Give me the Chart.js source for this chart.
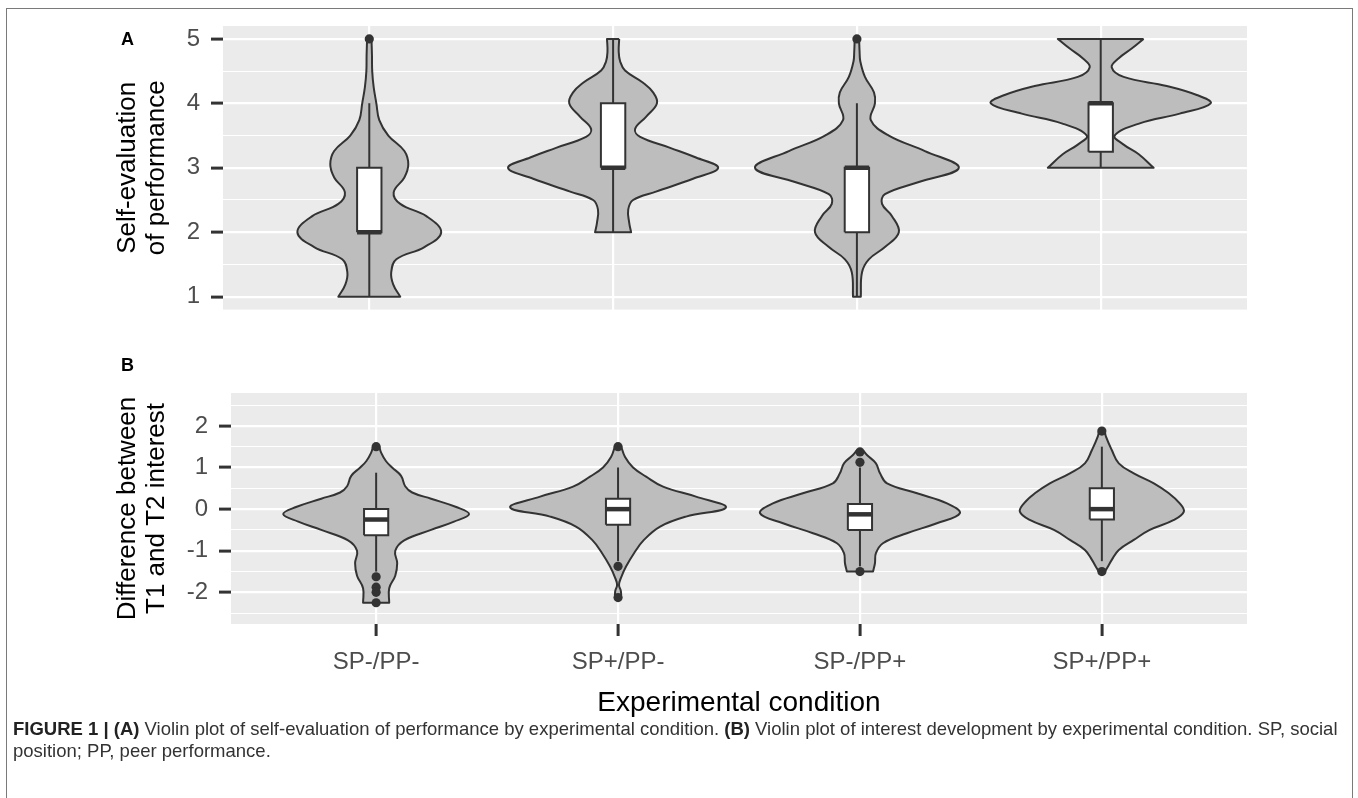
<!DOCTYPE html>
<html><head><meta charset="utf-8">
<script src="https://cdn.jsdelivr.net/npm/chart.js@4.4.1/dist/chart.umd.min.js"></script>
<style>
html,body{margin:0;padding:0;background:#fff;width:1358px;height:798px;overflow:hidden;font-family:"Liberation Sans",Arial,sans-serif;}
#frame{position:absolute;left:6px;top:8px;width:1347px;height:830px;border:1.5px solid #7a7a7a;box-sizing:border-box;}
#wrapA{position:absolute;left:0;top:0;width:1358px;height:335px;}
#wrapB{position:absolute;left:0;top:340px;width:1358px;height:400px;}
.lab{position:absolute;font-weight:bold;font-size:18px;color:#000;line-height:18px;}
#caption{position:absolute;left:13px;top:718px;width:1340px;font-size:18.5px;line-height:22px;color:#333;white-space:nowrap;}
#caption b{color:#222;}
</style></head>
<body>
<div id="frame"></div>
<div id="wrapA"><canvas id="cA" width="1358" height="335"></canvas></div>
<div id="wrapB"><canvas id="cB" width="1358" height="400"></canvas></div>
<div class="lab" style="left:121px;top:30px;">A</div>
<div class="lab" style="left:121px;top:356px;">B</div>
<div id="caption"><b>FIGURE 1 | (A)</b> Violin plot of self-evaluation of performance by experimental condition. <b>(B)</b> Violin plot of interest development by experimental condition. SP, social<br>position; PP, peer performance.</div>
<script>
// ---------------- DATA ----------------
const categories = ['SP-/PP-', 'SP+/PP-', 'SP-/PP+', 'SP+/PP+'];
const yTicksA = [1, 2, 3, 4, 5];
const yTicksB = [-2, -1, 0, 1, 2];

// Violin outlines: [value, half-width (in category units)], top to bottom
const violinA1 = [[5.00,.009],[4.75,.011],[4.50,.012],[4.25,.018],[4.00,.029],[3.74,.041],[3.50,.078],[3.26,.144],[3.05,.160],[2.85,.144],[2.62,.100],[2.44,.127],[2.25,.234],[2.00,.295],[1.77,.226],[1.58,.111],[1.38,.090],[1.19,.098],[1.00,.127]];
const violinA2 = [[5.00,.025],[4.80,.023],[4.65,.029],[4.51,.049],[4.32,.123],[4.17,.164],[4.00,.180],[3.79,.135],[3.60,.090],[3.48,.111],[3.31,.234],[3.16,.340],[3.00,.431],[2.83,.328],[2.63,.176],[2.50,.082],[2.35,.062],[2.15,.066],[2.00,.074]];
const violinA3 = [[5.00,.009],[4.80,.011],[4.65,.014],[4.41,.033],[4.17,.070],[4.00,.074],[3.74,.057],[3.50,.131],[3.26,.279],[3.00,.418],[2.78,.254],[2.59,.115],[2.44,.103],[2.25,.144],[2.00,.172],[1.77,.115],[1.58,.049],[1.38,.021],[1.00,.016]];
const violinA4 = [[5.00,.176],[4.85,.127],[4.70,.074],[4.56,.045],[4.41,.094],[4.27,.271],[4.13,.394],[4.00,.451],[3.84,.324],[3.69,.160],[3.50,.057],[3.36,.094],[3.21,.156],[3.00,.217]];
const violinB1 = [[1.52,.012],[1.35,.021],[1.15,.041],[1.00,.066],[0.80,.103],[0.55,.120],[0.40,.149],[0.25,.227],[0.05,.331],[-0.12,.384],[-0.30,.322],[-0.50,.227],[-0.75,.116],[-1.00,.079],[-1.30,.087],[-1.60,.079],[-1.90,.054],[-2.25,.054]];
const violinB2 = [[1.52,.012],[1.25,.029],[1.00,.062],[0.78,.116],[0.54,.186],[0.30,.322],[0.04,.446],[-0.18,.281],[-0.42,.174],[-0.74,.107],[-1.06,.066],[-1.38,.033],[-1.65,.012],[-1.82,.004],[-1.98,.012],[-2.15,.012]];
const violinB3 = [[1.42,.012],[1.30,.029],[1.10,.066],[0.86,.083],[0.62,.112],[0.38,.236],[0.14,.360],[-0.10,.413],[-0.34,.318],[-0.58,.194],[-0.82,.095],[-1.06,.066],[-1.30,.062],[-1.50,.054]];
const violinB4 = [[1.88,.012],[1.74,.017],[1.42,.041],[1.10,.070],[0.86,.132],[0.62,.215],[0.38,.277],[0.14,.322],[-0.06,.339],[-0.26,.298],[-0.50,.198],[-0.74,.132],[-0.98,.070],[-1.22,.041],[-1.42,.021],[-1.54,.008]];

// Box statistics per category: [lower whisker, Q1, median, Q3, upper whisker]
const boxStatsA = [[1,2,2,3,4],[2,3,3,4,5],[1,2,3,3,4],[3,3.25,4,4,5]];
const boxStatsB = [[-1.5,-0.625,-0.25,0,0.875],[-1.25,-0.375,0,0.25,1.0],[-1.375,-0.5,-0.125,0.125,1.0],[-1.25,-0.25,0,0.5,1.5]];
const outliersA = [[5],[],[5],[]];
const outliersB = [[1.5,-1.625,-1.875,-2.0,-2.25],[1.5,-1.375,-2.125],[1.375,1.125,-1.5],[1.875,-1.5]];

// ---------------- STYLE ----------------
const FONT = '"Liberation Sans", Arial, sans-serif';
const DARK = '#333333';
const VIOLIN_FILL = '#BDBDBD';
const BOX_HALF = 0.05;

function violinPath(c, pts) {
  const R = pts.map(p => ({x: c + p[1], y: p[0]}));
  const L = pts.slice().reverse().map(p => ({x: c - p[1], y: p[0]}));
  const seq = [R[0], ...R, R[R.length - 1], L[0], ...L, L[L.length - 1], R[0]];
  return seq.map(p => ({x: p.x, y: p.y}));
}

function buildDatasets(violins, stats, outliers) {
  const ds = [];
  violins.forEach((v, i) => {
    const c = i + 1;
    ds.push({type: 'line', data: violinPath(c, v), borderColor: DARK, borderWidth: 2,
      backgroundColor: VIOLIN_FILL, fill: 'shape', tension: 0.4, pointRadius: 0, order: 5, borderJoinStyle: 'round'});
    const [lo, q1, med, q3, hi] = stats[i];
    ds.push({type: 'line', data: [{x: c, y: lo}, {x: c, y: hi}], borderColor: DARK, borderWidth: 2,
      pointRadius: 0, fill: false, order: 4, tension: 0});
    ds.push({type: 'line', data: [{x: c - BOX_HALF, y: q1}, {x: c + BOX_HALF, y: q1}, {x: c + BOX_HALF, y: q3}, {x: c - BOX_HALF, y: q3}, {x: c - BOX_HALF, y: q1}],
      borderColor: DARK, borderWidth: 2, backgroundColor: '#FFFFFF', fill: 'shape', tension: 0, pointRadius: 0, order: 3, borderJoinStyle: 'miter'});
    ds.push({type: 'line', data: [{x: c - BOX_HALF, y: med}, {x: c + BOX_HALF, y: med}], borderColor: DARK, borderWidth: 4.5,
      pointRadius: 0, fill: false, order: 2, tension: 0, borderCapStyle: 'butt'});
    if (outliers[i].length) {
      ds.push({type: 'scatter', data: outliers[i].map(v => ({x: c, y: v})), backgroundColor: DARK, borderWidth: 0,
        pointRadius: 4.6, order: 1});
    }
  });
  return ds;
}

const bgPlugin = {
  id: 'panelBg',
  beforeDraw(chart) {
    const {ctx, chartArea: a} = chart;
    ctx.save();
    ctx.fillStyle = '#EBEBEB';
    ctx.fillRect(a.left, a.top, a.right - a.left, a.bottom - a.top);
    ctx.restore();
  }
};

function allTicks(major, min, max) {
  const step = major[1] - major[0];
  const out = [];
  for (let v = major[0] - step / 2; v <= major[major.length - 1] + step / 2 + 1e-9; v += step / 2) {
    if (v >= min && v <= max) out.push(Math.round(v * 1000) / 1000);
  }
  return out;
}

function makeChart(id, cfg) {
  const isMajor = v => cfg.yTicks.some(t => Math.abs(t - v) < 1e-6);
  return new Chart(document.getElementById(id), {
    type: 'line',
    data: {datasets: buildDatasets(cfg.violins, cfg.stats, cfg.outliers)},
    options: {
      responsive: false, animation: false, events: [],
      layout: {padding: {left: 0, right: 111, top: cfg.padTop, bottom: cfg.padBottom}},
      plugins: {legend: {display: false}, tooltip: {enabled: false}},
      scales: {
        x: {
          type: 'linear', min: 0.4, max: 4.6,
          afterBuildTicks: s => { s.ticks = categories.map((c, i) => ({value: i + 1})); },
          afterFit: s => { s.height = cfg.xHeight; },
          ticks: {display: cfg.showX, autoSkip: false, maxRotation: 0, padding: 12, color: '#4D4D4D',
            font: {family: FONT, size: 24}, callback: v => categories[Math.round(v) - 1]},
          grid: {color: '#FFFFFF', lineWidth: 2.2, drawTicks: cfg.showX, tickLength: 12, tickWidth: 3, tickColor: DARK},
          border: {display: false},
          title: {display: cfg.showX, text: 'Experimental condition', color: '#000', font: {family: FONT, size: 28}, padding: {top: 0, bottom: 20}}
        },
        y: {
          type: 'linear', min: cfg.yMin, max: cfg.yMax,
          afterBuildTicks: s => { s.ticks = allTicks(cfg.yTicks, cfg.yMin, cfg.yMax).map(v => ({value: v})); },
          afterFit: s => { s.width = cfg.yWidth; },
          ticks: {autoSkip: false, padding: 11, color: '#4D4D4D', font: {family: FONT, size: 24},
            callback: v => isMajor(v) ? String(v) : ''},
          grid: {color: '#FFFFFF', lineWidth: c => isMajor(c.tick.value) ? 2.2 : 1.1, tickLength: 12, tickWidth: 3,
            tickColor: c => isMajor(c.tick.value) ? DARK : 'rgba(0,0,0,0)'},
          border: {display: false},
          title: {display: true, text: cfg.yTitle, color: '#000', font: {family: FONT, size: 26, lineHeight: 1.1}, padding: {top: 114, bottom: 0}}
        }
      }
    },
    plugins: [bgPlugin]
  });
}

makeChart('cA', {
  violins: [violinA1, violinA2, violinA3, violinA4], stats: boxStatsA, outliers: outliersA,
  yTicks: yTicksA, yMin: 0.8, yMax: 5.2, yWidth: 223, padTop: 26, padBottom: 5, xHeight: 0, showX: false,
  yTitle: ['Self-evaluation', 'of performance']
});
makeChart('cB', {
  violins: [violinB1, violinB2, violinB3, violinB4], stats: boxStatsB, outliers: outliersB,
  yTicks: yTicksB, yMin: -2.76, yMax: 2.79, yWidth: 231, padTop: 53, padBottom: 0, xHeight: 116, showX: true,
  yTitle: ['Difference between', 'T1 and T2 interest']
});
</script>
</body></html>
